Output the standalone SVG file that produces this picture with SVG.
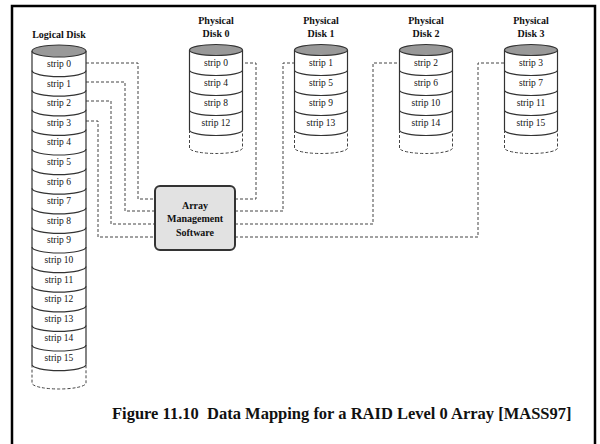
<svg xmlns="http://www.w3.org/2000/svg" width="600" height="444" viewBox="0 0 600 444">
<style>
.frame{fill:none;stroke:#000;stroke-width:2.5}
.side{fill:none;stroke:#333;stroke-width:1.2}
.dside{fill:none;stroke:#444;stroke-width:1;stroke-dasharray:3 2}
.top{fill:#999;stroke:#333;stroke-width:1.2}
.conn{fill:none;stroke:#444;stroke-width:1;stroke-dasharray:3 2}
.lbl{font-family:"Liberation Serif",serif;font-size:9.5px;fill:#111;text-anchor:middle}
.ttl{font-family:"Liberation Serif",serif;font-size:10px;font-weight:bold;fill:#111;text-anchor:middle}
.box{fill:#e2e2e2;stroke:#333;stroke-width:2}
.cap{font-family:"Liberation Serif",serif;font-size:16.5px;font-weight:bold;fill:#111;white-space:pre}
</style>
<rect width="600" height="444" fill="#fff"/>
<path class="frame" d="M12,446 V6 H595 V446"/>

<g id="connectors">
<path class="conn" d="M86,63 H138 V199 H155"/>
<path class="conn" d="M86,82 H125 V211 H155"/>
<path class="conn" d="M86,101 H111 V224 H155"/>
<path class="conn" d="M86,121 H98 V237 H155"/>
<path class="conn" d="M235,199 H256 V63 H243"/>
<path class="conn" d="M235,211 H283 V63 H295"/>
<path class="conn" d="M235,224 H373 V63 H400"/>
<path class="conn" d="M235,237 H478 V63 H505"/>
</g>

<g id="logical-disk">
<text class="ttl" x="59" y="38">Logical Disk</text>
<path class="side" d="M32,51 V364.6 M86,51 V364.6"/>
<path class="side" d="M32,70.6 A27,6 0 0 0 86,70.6 M32,90.2 A27,6 0 0 0 86,90.2 M32,109.8 A27,6 0 0 0 86,109.8 M32,129.4 A27,6 0 0 0 86,129.4 M32,149 A27,6 0 0 0 86,149 M32,168.6 A27,6 0 0 0 86,168.6 M32,188.2 A27,6 0 0 0 86,188.2 M32,207.8 A27,6 0 0 0 86,207.8 M32,227.4 A27,6 0 0 0 86,227.4 M32,247 A27,6 0 0 0 86,247 M32,266.6 A27,6 0 0 0 86,266.6 M32,286.2 A27,6 0 0 0 86,286.2 M32,305.8 A27,6 0 0 0 86,305.8 M32,325.4 A27,6 0 0 0 86,325.4 M32,345 A27,6 0 0 0 86,345 M32,364.6 A27,6 0 0 0 86,364.6"/>
<path class="dside" d="M32,364.6 V383 A27,6 0 0 0 86,383 V364.6"/>
<ellipse class="top" cx="59" cy="51" rx="27" ry="6"/>
<text class="lbl" x="59" y="67">strip 0</text>
<text class="lbl" x="59" y="86.6">strip 1</text>
<text class="lbl" x="59" y="106.2">strip 2</text>
<text class="lbl" x="59" y="125.8">strip 3</text>
<text class="lbl" x="59" y="145.4">strip 4</text>
<text class="lbl" x="59" y="165">strip 5</text>
<text class="lbl" x="59" y="184.6">strip 6</text>
<text class="lbl" x="59" y="204.2">strip 7</text>
<text class="lbl" x="59" y="223.8">strip 8</text>
<text class="lbl" x="59" y="243.4">strip 9</text>
<text class="lbl" x="59" y="263">strip 10</text>
<text class="lbl" x="59" y="282.6">strip 11</text>
<text class="lbl" x="59" y="302.2">strip 12</text>
<text class="lbl" x="59" y="321.8">strip 13</text>
<text class="lbl" x="59" y="341.4">strip 14</text>
<text class="lbl" x="59" y="361">strip 15</text>
</g>

<g id="disk0">
<text class="ttl" x="216" y="23.5">Physical</text>
<text class="ttl" x="216" y="36.5">Disk 0</text>
<path class="side" d="M189.5,50 V130 M242.5,50 V130 M189.5,70 A26.5,5.5 0 0 0 242.5,70 M189.5,90 A26.5,5.5 0 0 0 242.5,90 M189.5,110 A26.5,5.5 0 0 0 242.5,110 M189.5,130 A26.5,5.5 0 0 0 242.5,130"/>
<path class="dside" d="M189.5,130 V148 A26.5,5.5 0 0 0 242.5,148 V130"/>
<ellipse class="top" cx="216" cy="50" rx="26.5" ry="5.5"/>
<text class="lbl" x="216" y="66">strip 0</text>
<text class="lbl" x="216" y="86">strip 4</text>
<text class="lbl" x="216" y="106">strip 8</text>
<text class="lbl" x="216" y="126">strip 12</text>
</g>

<g id="disk1">
<text class="ttl" x="321" y="23.5">Physical</text>
<text class="ttl" x="321" y="36.5">Disk 1</text>
<path class="side" d="M294.5,50 V130 M347.5,50 V130 M294.5,70 A26.5,5.5 0 0 0 347.5,70 M294.5,90 A26.5,5.5 0 0 0 347.5,90 M294.5,110 A26.5,5.5 0 0 0 347.5,110 M294.5,130 A26.5,5.5 0 0 0 347.5,130"/>
<path class="dside" d="M294.5,130 V148 A26.5,5.5 0 0 0 347.5,148 V130"/>
<ellipse class="top" cx="321" cy="50" rx="26.5" ry="5.5"/>
<text class="lbl" x="321" y="66">strip 1</text>
<text class="lbl" x="321" y="86">strip 5</text>
<text class="lbl" x="321" y="106">strip 9</text>
<text class="lbl" x="321" y="126">strip 13</text>
</g>

<g id="disk2">
<text class="ttl" x="426" y="23.5">Physical</text>
<text class="ttl" x="426" y="36.5">Disk 2</text>
<path class="side" d="M399.5,50 V130 M452.5,50 V130 M399.5,70 A26.5,5.5 0 0 0 452.5,70 M399.5,90 A26.5,5.5 0 0 0 452.5,90 M399.5,110 A26.5,5.5 0 0 0 452.5,110 M399.5,130 A26.5,5.5 0 0 0 452.5,130"/>
<path class="dside" d="M399.5,130 V148 A26.5,5.5 0 0 0 452.5,148 V130"/>
<ellipse class="top" cx="426" cy="50" rx="26.5" ry="5.5"/>
<text class="lbl" x="426" y="66">strip 2</text>
<text class="lbl" x="426" y="86">strip 6</text>
<text class="lbl" x="426" y="106">strip 10</text>
<text class="lbl" x="426" y="126">strip 14</text>
</g>

<g id="disk3">
<text class="ttl" x="531" y="23.5">Physical</text>
<text class="ttl" x="531" y="36.5">Disk 3</text>
<path class="side" d="M504.5,50 V130 M557.5,50 V130 M504.5,70 A26.5,5.5 0 0 0 557.5,70 M504.5,90 A26.5,5.5 0 0 0 557.5,90 M504.5,110 A26.5,5.5 0 0 0 557.5,110 M504.5,130 A26.5,5.5 0 0 0 557.5,130"/>
<path class="dside" d="M504.5,130 V148 A26.5,5.5 0 0 0 557.5,148 V130"/>
<ellipse class="top" cx="531" cy="50" rx="26.5" ry="5.5"/>
<text class="lbl" x="531" y="66">strip 3</text>
<text class="lbl" x="531" y="86">strip 7</text>
<text class="lbl" x="531" y="106">strip 11</text>
<text class="lbl" x="531" y="126">strip 15</text>
</g>

<g id="array-management-software">
<rect class="box" x="155" y="186" width="80" height="64" rx="5"/>
<text class="ttl" x="195" y="208.5">Array</text>
<text class="ttl" x="195" y="222">Management</text>
<text class="ttl" x="195" y="235.5">Software</text>
</g>

<g id="caption">
<text class="cap" x="112" y="419" xml:space="preserve">Figure 11.10  Data Mapping for a RAID Level 0 Array [MASS97]</text>
</g>
</svg>
